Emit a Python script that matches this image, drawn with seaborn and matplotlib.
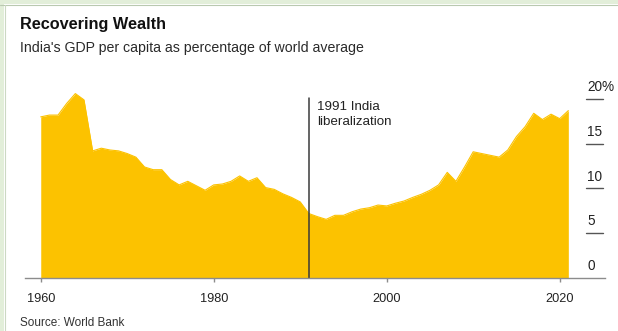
import matplotlib
matplotlib.use("Agg")
import matplotlib.pyplot as plt
from matplotlib.patches import Rectangle
import seaborn as sns
import pandas as pd

# India's GDP per capita as a share of the world average (%)
years = list(range(1960, 2022))
gdp_share = [
    18.0, 18.2, 18.2, 19.5, 20.6, 19.9, 14.2, 14.5, 14.3, 14.2,
    13.9, 13.5, 12.4, 12.1, 12.1, 11.0, 10.4, 10.8, 10.3, 9.8,
    10.4, 10.5, 10.8, 11.4, 10.8, 11.2, 10.1, 9.9, 9.4, 9.0,
    8.5, 7.2, 6.85, 6.55, 7.0, 7.0, 7.4, 7.7, 7.85, 8.15,
    8.05, 8.35, 8.6, 9.0, 9.35, 9.8, 10.4, 11.8, 10.8, 12.4,
    14.1, 13.9, 13.7, 13.5, 14.3, 15.8, 16.9, 18.4, 17.7, 18.3,
    17.8, 18.7,
]
x_ticks = [1960, 1980, 2000, 2020]
y_ticks = [0, 5, 10, 15, 20]
y_tick_labels = ["0", "5", "10", "15", "20%"]
event_year = 1991
event_label = "1991 India\nliberalization"

df = pd.DataFrame({"year": years, "share": gdp_share})

sns.set_theme(style="white")
plt.rcParams["font.family"] = ["Liberation Sans", "DejaVu Sans"]

YELLOW = "#FCC200"
AXIS_GREY = "#8c8c8c"
TEXT = "#222222"

fig = plt.figure(figsize=(6.18, 3.31), dpi=100)
fig.patch.set_facecolor("white")

W, H = 618, 331
ax = fig.add_axes([25 / W, 1 - 278 / H, 580 / W, (278 - 85) / H])
ax.set_facecolor("white")

sns.lineplot(data=df, x="year", y="share", ax=ax, color=YELLOW, linewidth=0.8)
ax.fill_between(df["year"], 0, df["share"], color=YELLOW, linewidth=0)

ax.set_xlim(1958.18, 2025.24)
ax.set_ylim(0, 21.56)
for s in ["left", "right", "top"]:
    ax.spines[s].set_visible(False)
ax.spines["bottom"].set_color(AXIS_GREY)
ax.spines["bottom"].set_linewidth(1.0)
ax.set_xlabel("")
ax.set_ylabel("")

ax.set_xticks(x_ticks)
ax.set_xticklabels([str(t) for t in x_ticks])
ax.tick_params(axis="x", bottom=True, direction="out", length=3, width=1,
               color=AXIS_GREY, labelsize=9.2, labelcolor=TEXT, pad=8)
ax.set_yticks([])

# right-hand value scale: short rules with the label sitting above each one
ytrans = ax.get_yaxis_transform()
x0 = (586 - 25) / 580
x1 = (603 - 25) / 580
for v, lab in zip(y_ticks, y_tick_labels):
    if v > 0:
        ax.plot([x0, x1], [v, v], transform=ytrans, color="#555555",
                linewidth=1.0, clip_on=False)
    ax.annotate(lab, xy=(x0 + 0.002, v), xycoords=ytrans,
                xytext=(0, 3.5), textcoords="offset points",
                ha="left", va="bottom", fontsize=9.8, color=TEXT)

# liberalization marker
ax.axvline(event_year, ymin=0, ymax=(278 - 98) / (278 - 85),
           color="#3a3a3a", linewidth=1.1)
ax.text(event_year + 0.95, 19.75, event_label, ha="left", va="top",
        fontsize=9.6, color=TEXT, linespacing=1.3)

# titles and source
fig.text(20 / W, 1 - 24 / H, "Recovering Wealth", ha="left", va="center",
         fontsize=11.7, fontweight="bold", color="#111111")
fig.text(20 / W, 1 - 48 / H,
         "India's GDP per capita as percentage of world average",
         ha="left", va="center", fontsize=10.2, color="#2a2a2a")
fig.text(20 / W, 1 - 323 / H, "Source: World Bank", ha="left", va="center",
         fontsize=8.5, color="#333333")

# page frame on the top and left edges
frame_green = "#e2eed9"
fig.patches.append(Rectangle((0, 0), 4 / W, 1, transform=fig.transFigure,
                             facecolor=frame_green, edgecolor="none"))
fig.patches.append(Rectangle((0, 1 - 4 / H), 1, 4 / H, transform=fig.transFigure,
                             facecolor=frame_green, edgecolor="none"))
fig.add_artist(plt.Line2D([0, 1], [1 - 4.5 / H, 1 - 4.5 / H],
                          transform=fig.transFigure, color="#b9c9b0", linewidth=0.8))
fig.add_artist(plt.Line2D([4.5 / W, 4.5 / W], [0, 1 - 4.5 / H],
                          transform=fig.transFigure, color="#cbd9c3", linewidth=0.8))

fig.savefig("out.png", dpi=100, facecolor="white")
